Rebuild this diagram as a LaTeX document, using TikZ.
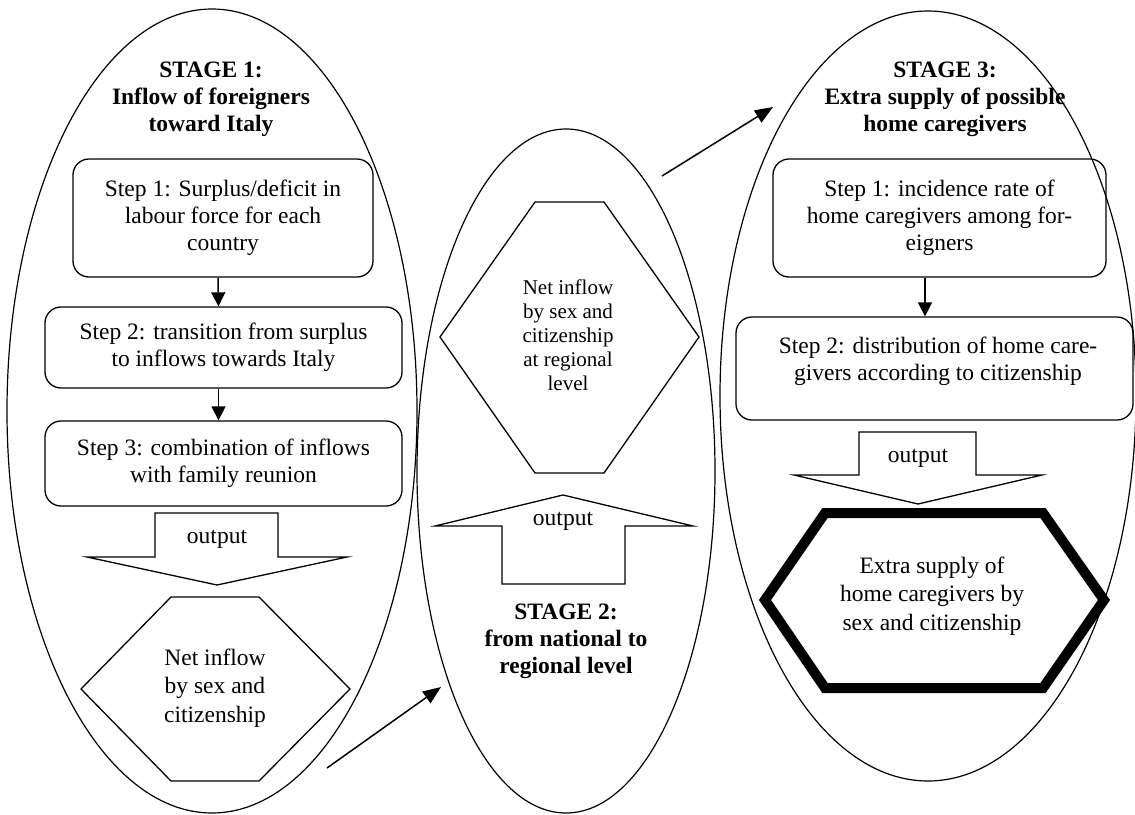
\documentclass[tikz,border=0pt]{standalone}
\usepackage{fontspec}
\setmainfont{Liberation Serif}
\usetikzlibrary{shapes.geometric,arrows.meta}
\begin{document}
\begin{tikzpicture}[x=1pt,y=-1pt,
  stage/.style={draw, ellipse, inner sep=0pt, line width=1.2pt},
  stepbox/.style={draw, rounded corners=16pt, line width=1.3pt, inner sep=0pt, align=center, font=\fontsize{23.5}{27}\selectfont},
  txt/.style={align=center, inner sep=0pt, font=\fontsize{23.5}{27}\selectfont},
  hextxt/.style={align=center, inner sep=0pt, font=\fontsize{23.5}{28.5}\selectfont},
  title/.style={align=center, inner sep=0pt, font=\fontsize{23.5}{27}\selectfont\bfseries},
  shape line/.style={line width=1.3pt, line join=miter},
  flow/.style={-{Triangle[length=14pt,width=14pt]}, line width=1.5pt},
  link/.style={-{Triangle[length=18pt,width=14pt]}, line width=1.5pt}]
\useasboundingbox (0,0) rectangle (1135,814);

% stage ellipses
\node[stage, minimum width=410pt, minimum height=804pt] (e1) at (212,411) {};
\node[stage, minimum width=298pt, minimum height=684pt] (e2) at (566,471) {};
\node[stage, minimum width=416pt, minimum height=770pt] (e3) at (928,396) {};

% titles
\node[title] (t1) at (211,99) {STAGE 1:\\Inflow of foreigners\\toward Italy};
\node[title] (t2) at (566,641) {STAGE 2:\\from national to\\regional level};
\node[title] (t3) at (945,99) {STAGE 3:\\Extra supply of possible\\home caregivers};

% stage 1 steps
\node[stepbox, minimum width=300pt, minimum height=118pt] (a1) at (223,218) {Step 1: Surplus/deficit in\\labour force for each\\country};
\node[stepbox, minimum width=357pt, minimum height=81pt] (a2) at (223.5,347.5) {Step 2: transition from surplus\\to inflows towards Italy};
\node[stepbox, minimum width=357pt, minimum height=85pt] (a3) at (223.5,463.5) {Step 3: combination of inflows\\with family reunion};
\draw[flow] ([xshift=-5pt]a1.south) -- ([xshift=-5pt]a2.north);
\draw[flow] ([xshift=-5pt]a2.south) -- ([xshift=-5pt]a3.north);

% stage 1 output arrow
\draw[shape line] (155,513) -- (278,513) -- (278,557) -- (347,557) -- (217,585) -- (87,557) -- (155,557) -- cycle;
\node[txt] (o1) at (217,539) {output};

% stage 1 hexagon
\draw[shape line] (171,597) -- (259,597) -- (350,689) -- (259,781) -- (171,781) -- (81,689) -- cycle;
\node[hextxt] (h1) at (215,688) {Net inflow\\by sex and\\citizenship};

% stage 2 hexagon
\draw[shape line] (535,202) -- (604,202) -- (699,337) -- (604,473) -- (535,473) -- (440,337) -- cycle;
\node[align=center, inner sep=0pt, font=\fontsize{21}{24}\selectfont] (h2) at (568,335) {Net inflow\\by sex and\\citizenship\\at regional\\level};

% stage 2 output arrow (up)
\draw[shape line] (502,584) -- (625,584) -- (625,526) -- (693,526) -- (563,495) -- (435,526) -- (502,526) -- cycle;
\node[txt] (o2) at (563,521) {output};

% stage 3 steps
\node[stepbox, minimum width=333pt, minimum height=118pt] (c1) at (939.5,218) {Step 1: incidence rate of\\home caregivers among for-\\eigners};
\node[stepbox, minimum width=397pt, minimum height=103pt] (c2) at (934.5,368.5) {};
\node[txt] (c2t) at (938,361.5) {Step 2: distribution of home care-\\givers according to citizenship};
\draw[flow] ([xshift=-14.5pt]c1.south) -- ([xshift=-14.5pt]c1.south |- c2.north);

% stage 3 output arrow
\draw[shape line] (859,432) -- (976,432) -- (976,475) -- (1042,475) -- (918,504) -- (794,475) -- (859,475) -- cycle;
\node[txt] (o3) at (918,458) {output};

% stage 3 thick hexagon
\draw[line width=10pt, line join=miter] (825,513) -- (1043,513) -- (1104,600) -- (1043,688) -- (825,688) -- (765,600) -- cycle;
\node[hextxt] (h3) at (932,596) {Extra supply of\\home caregivers by\\sex and citizenship};

% links between stages
\coordinate (l1s) at (327,768);
\coordinate (l1e) at (441,687);
\draw[link] (l1s) -- (l1e);
\coordinate (l2s) at (662,176);
\coordinate (l2e) at (773,107);
\draw[link] (l2s) -- (l2e);
\end{tikzpicture}
\end{document}
